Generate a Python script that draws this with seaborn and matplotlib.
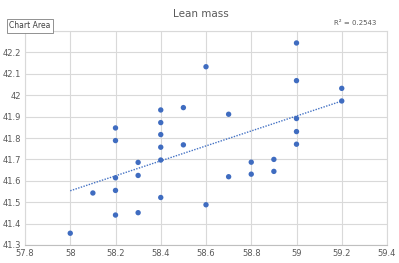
import matplotlib
matplotlib.use("Agg")
import matplotlib.pyplot as plt
import seaborn as sns
import numpy as np
import pandas as pd

x_vals = [58.0, 58.1,
          58.2, 58.2, 58.2, 58.2, 58.2,
          58.3, 58.3, 58.3,
          58.4, 58.4, 58.4, 58.4, 58.4, 58.4,
          58.5, 58.5,
          58.6, 58.6,
          58.7, 58.7,
          58.8, 58.8,
          58.9, 58.9,
          59.0, 59.0, 59.0, 59.0, 59.0,
          59.2, 59.2]
y_vals = [41.355, 41.543,
          41.44, 41.555, 41.614, 41.788, 41.847,
          41.451, 41.625, 41.686,
          41.522, 41.697, 41.757, 41.816, 41.872, 41.931,
          41.768, 41.942,
          41.488, 42.133,
          41.619, 41.911,
          41.687, 41.631,
          41.70, 41.644,
          42.244, 42.068, 41.891, 41.83, 41.771,
          42.032, 41.973]
x_ticks = [57.8, 58, 58.2, 58.4, 58.6, 58.8, 59, 59.2, 59.4]
y_ticks = [41.3, 41.4, 41.5, 41.6, 41.7, 41.8, 41.9, 42, 42.1, 42.2]
title = "Lean mass"
r2_label = "R² = 0.2543"

df = pd.DataFrame({"x": x_vals, "y": y_vals})

sns.set_theme(style="white")
plt.rcParams['font.family'] = ['DejaVu Sans']

fig = plt.figure(figsize=(3.99, 2.63), dpi=100)
ax = fig.add_axes([25/399, 1 - 245/263, (387-25)/399, (245-31)/263])

blue = "#4472C4"
sns.regplot(data=df, x="x", y="y", ax=ax, ci=None,
            scatter_kws=dict(s=15, color="#3f6cc0", edgecolor="none", alpha=1, zorder=3),
            line_kws=dict(color=blue, lw=1.0, linestyle=(0, (1, 1)), zorder=2))

ax.set_xlim(57.8, 59.4)
ax.set_ylim(41.3, 42.3)
ax.set_xticks(x_ticks)
ax.set_xticklabels([f"{v:g}" for v in x_ticks])
ax.set_yticks(y_ticks + [42.3])
ax.set_yticklabels([f"{v:g}" for v in y_ticks] + [""])
ax.grid(True, color="#d9d9d9", lw=0.8)
ax.set_axisbelow(True)
for s in ax.spines.values():
    s.set_color("#d9d9d9")
    s.set_linewidth(0.8)
ax.spines["bottom"].set_color("#bfbfbf")
ax.tick_params(axis="both", labelsize=6, colors="#595959", length=0, pad=3)
ax.set_xlabel("")
ax.set_ylabel("")

fig.text(201/399, 1 - 14/263, title, ha="center", va="center", fontsize=7.5, color="#595959")
fig.text(376/399, 1 - 23/263, r2_label, ha="right", va="center", fontsize=5, color="#595959")
fig.text(9/399, 1 - 26/263, "Chart Area", ha="left", va="center", fontsize=5.5, color="#404040",
         bbox=dict(boxstyle="square,pad=0.3", facecolor="white", edgecolor="#808080", lw=0.6))

fig.savefig("out.png", dpi=100)
